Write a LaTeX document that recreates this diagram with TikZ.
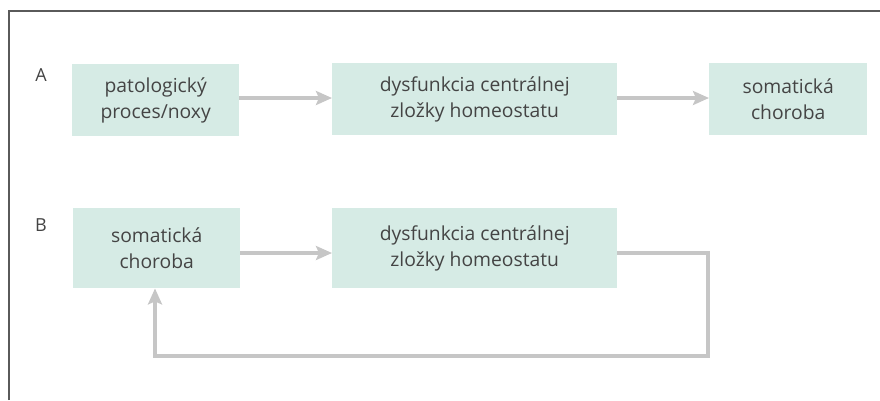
\documentclass[tikz,border=0pt]{standalone}
\usepackage{fontspec}
\setmainfont{Open Sans}
\usetikzlibrary{arrows.meta}
\definecolor{boxfill}{HTML}{D6EBE5}
\definecolor{arrowgray}{HTML}{C6C6C6}
\definecolor{framegray}{HTML}{5A5A5A}
\definecolor{textgray}{HTML}{444444}
\tikzset{
  box/.style={fill=boxfill, inner sep=0pt, anchor=north west, text=textgray,
    font=\fontsize{19.3}{26}\selectfont, align=center},
  conn/.style={draw=arrowgray, line width=3.5pt, -{Stealth[length=16pt,width=14pt,inset=3pt]}},
  lbl/.style={text=textgray, font=\fontsize{18}{20}\selectfont, inner sep=0pt},
}
\begin{document}
\begin{tikzpicture}[x=1pt,y=-1pt]
\useasboundingbox (0,0) rectangle (880,400);
\draw[framegray, line width=1.5pt] (9,400) -- (9,11) -- (880,11);
\node[lbl] (la) at (41,75) {A};
\node[lbl] (lb) at (41,225) {B};
\node[box, minimum width=167pt, minimum height=72pt] (a1) at (72,64) {patologický\\proces/noxy};
\node[box, minimum width=285pt, minimum height=72pt] (a2) at (332,63) {dysfunkcia centrálnej\\zložky homeostatu};
\node[box, minimum width=158pt, minimum height=72pt] (a3) at (709,63) {somatická\\choroba};
\node[box, minimum width=167pt, minimum height=80pt] (b1) at (73,208) {somatická\\choroba};
\node[box, minimum width=285pt, minimum height=80pt] (b2) at (332,208) {dysfunkcia centrálnej\\zložky homeostatu};
\draw[conn] (a1.east |- 0,98) -- (a2.west |- 0,98);
\draw[conn] (a2.east |- 0,98) -- (a3.west |- 0,98);
\draw[conn] (b1.east |- 0,253) -- (b2.west |- 0,253);
\coordinate (c1) at (708,253);
\coordinate (c2) at (708,356);
\coordinate (c3) at (155,356);
\draw[conn] (b2.east |- c1) -- (c1) -- (c2) -- (c3) -- (c3 |- b1.south);
\end{tikzpicture}
\end{document}
